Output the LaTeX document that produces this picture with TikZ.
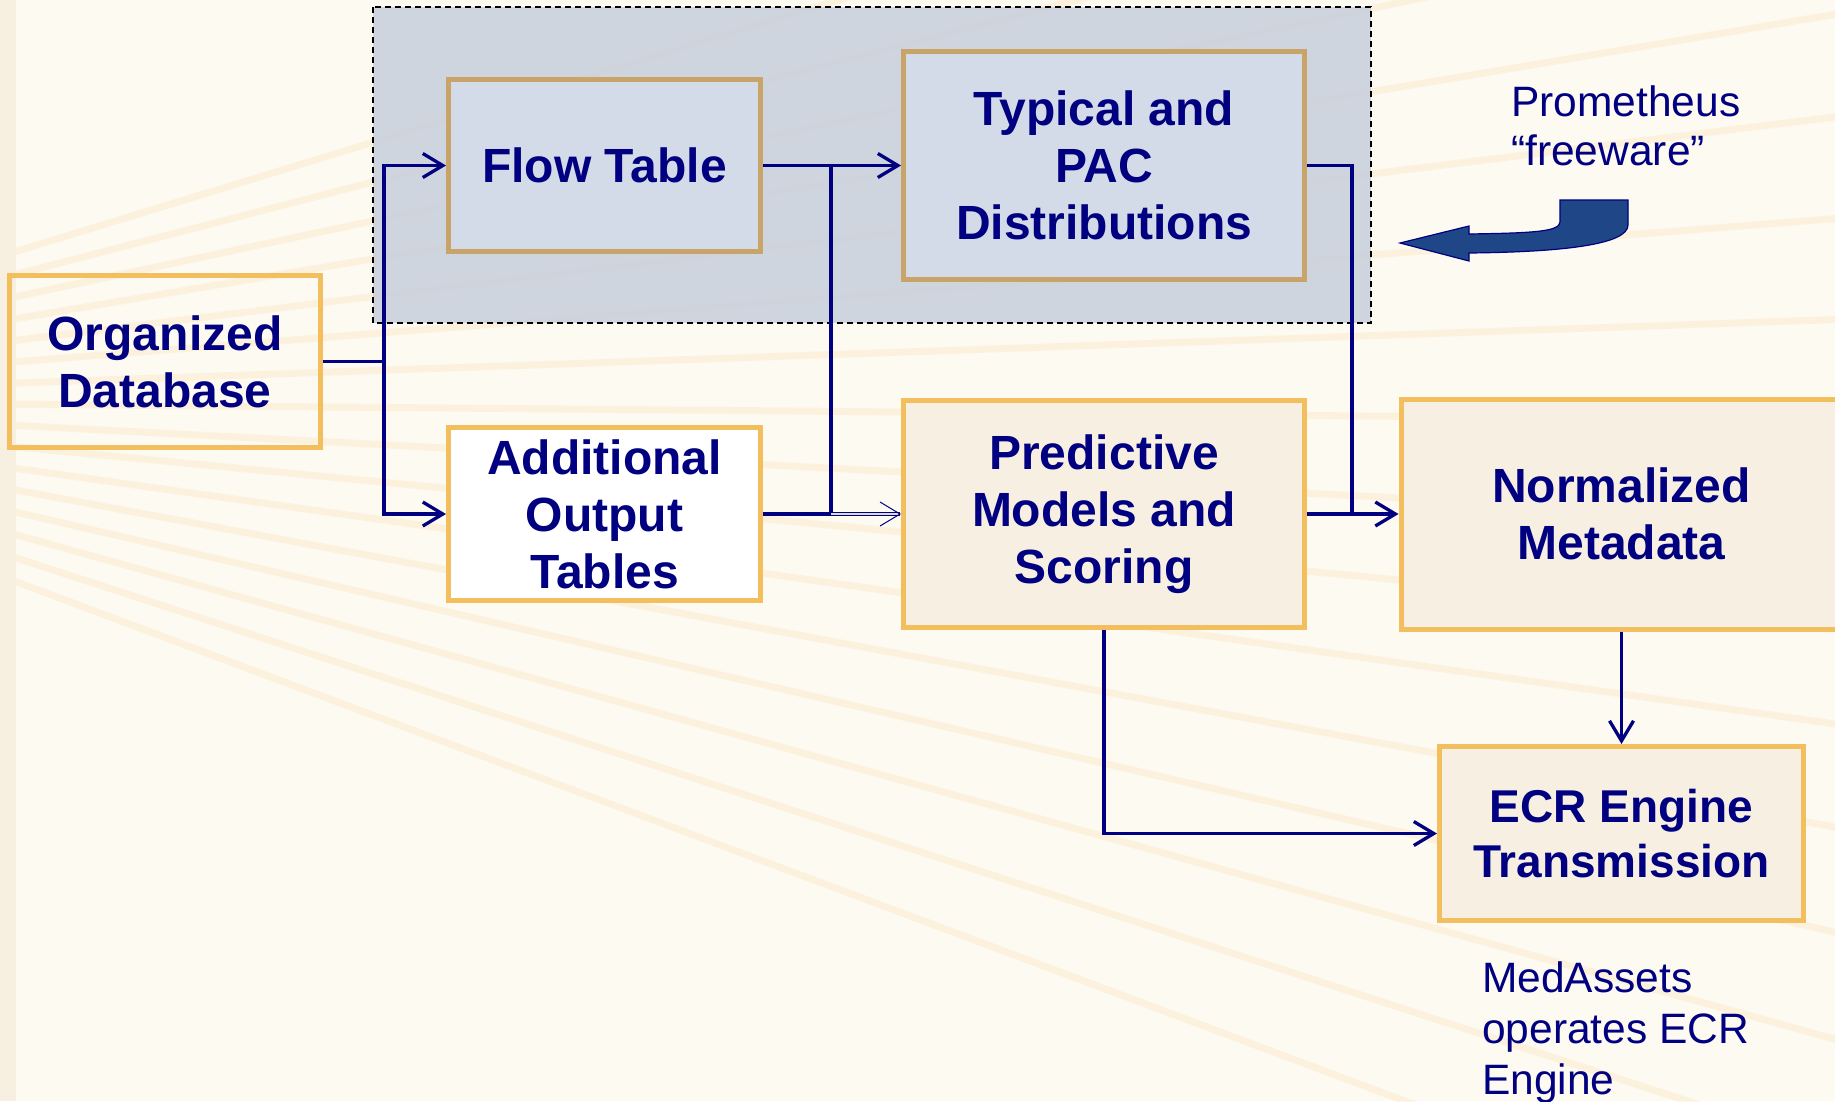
\documentclass[tikz,border=0pt]{standalone}
\usepackage{fontspec}
\setmainfont{Liberation Sans}
\usetikzlibrary{arrows.meta}
\definecolor{navytext}{RGB}{0,0,128}
\definecolor{boxgold}{RGB}{242,190,94}
\definecolor{dimgold}{RGB}{200,164,104}
\definecolor{bluefill}{RGB}{212,219,232}
\definecolor{panelgrey}{RGB}{200,207,220}
\definecolor{creamfill}{RGB}{247,240,226}
\definecolor{pagecream}{RGB}{253,250,242}
\definecolor{stripcream}{RGB}{247,240,224}
\definecolor{streak}{RGB}{250,205,130}
\definecolor{blockblue}{RGB}{31,71,136}
\begin{document}
\begin{tikzpicture}[x=1pt,y=-1pt]
    \tikzstyle{box}=[draw=boxgold,line width=5pt,align=center,inner sep=0pt,text=navytext,font=\fontsize{48}{57}\selectfont\bfseries]
    \tikzstyle{note}=[align=left,inner sep=0pt,text=navytext,font=\fontsize{42.5}{49}\selectfont]
    \tikzstyle{link}=[draw=navytext,line width=3.3pt]
    \tikzstyle{tip}=[-{Straight Barb[length=20pt,width=24pt]}]
    \tikzstyle{hollow}=[draw=navytext,line width=1pt,double=gray!30,double distance=2.5pt,-{Straight Barb[length=20pt,width=24pt]}]
    \useasboundingbox (0,0) rectangle (1835,1101);
    \clip (0,0) rectangle (1835,1101);
    % background
    \fill[pagecream] (0,0) rectangle (1835,1101);
    \fill[stripcream] (0,0) rectangle (16,1101);
    \begin{scope}
      \clip (16,0) rectangle (1835,1101);
      \foreach \a in {-17,-14.5,...,21}
        \draw[streak,line width=7pt,opacity=0.18] (-470,400) -- ++(\a:2600);
    \end{scope}
    \draw[dashed,dash pattern=on 6pt off 4pt,line width=1.5pt,fill=panelgrey,fill opacity=0.85] (373,7) rectangle (1371,323);
    % boxes
    \node[box,minimum width=311pt,minimum height=172pt] (orgdb) at (165,361.5) {Organized\\Database};
    \node[box,draw=dimgold,fill=bluefill,minimum width=312pt,minimum height=172pt] (flow) at (604.5,165.5) {Flow Table};
    \node[box,draw=dimgold,fill=bluefill,minimum width=401pt,minimum height=228pt] (typical) at (1104,165.5) {Typical and\\PAC\\Distributions};
    \node[box,fill=white,minimum width=312pt,minimum height=173pt] (addl) at (604.5,514) {Additional\\Output\\Tables};
    \node[box,fill=creamfill,minimum width=401pt,minimum height=227pt] (pred) at (1104,514) {Predictive\\Models and\\Scoring};
    \node[box,fill=creamfill,minimum width=441pt,minimum height=230pt] (norm) at (1621.5,514) {Normalized\\Metadata};
    \node[box,fill=creamfill,minimum width=364pt,minimum height=174pt,font=\fontsize{46}{55}\selectfont\bfseries] (ecr) at (1621.5,833.5) {ECR Engine\\Transmission};
    % notes
    \node[note,anchor=north west] (prom) at (1511,85) {Prometheus\\``freeware''};
    \node[note,anchor=north west,font=\fontsize{42.5}{51}\selectfont] (medassets) at (1482,961) {MedAssets\\operates ECR\\Engine};
    \filldraw[fill=blockblue,draw=navytext,line width=1.2pt] (1400,243) -- (1469,226) -- (1469,234)
      .. controls (1530,233) and (1560,232) .. (1560,222) -- (1560,200) -- (1628,200) -- (1628,225)
      .. controls (1628,245) and (1560,252) .. (1469,253) -- (1469,261) -- cycle;
    % connectors
    \draw[link] (orgdb.east) -- (384,361.5) coordinate (split);
    \draw[link,tip] (split) |- (flow.west);
    \draw[link,tip] (split) |- (addl.west);
    \draw[link,tip] (flow.east) -- (typical.west);
    \coordinate (join) at (831,165.5);
    \draw[link] (join) |- (addl.east);
    \draw[hollow] (join |- addl.east) -- (pred.west);
    \draw[link] (typical.east) -| (1352,514) coordinate (merge);
    \draw[link,tip] (pred.east) -- (norm.west);
    \draw[link,tip] (norm.south) -- (ecr.north);
    \draw[link,tip] (pred.south) |- (ecr.west);
  \end{tikzpicture}
\end{document}
